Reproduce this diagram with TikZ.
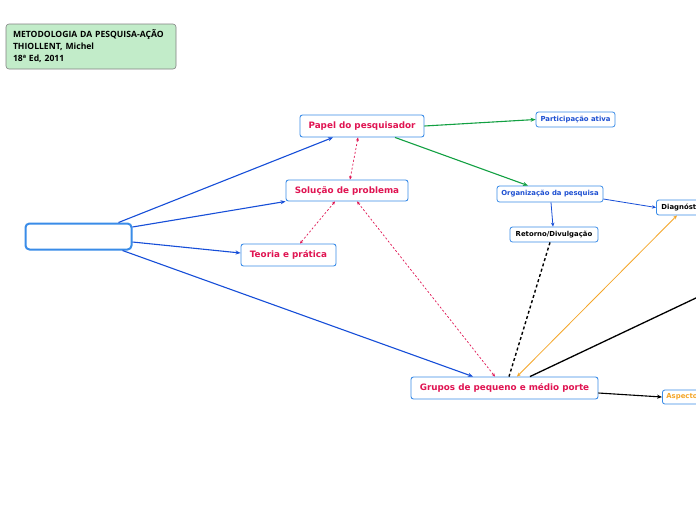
\documentclass[tikz,border=0pt]{standalone}
\usepackage{fontspec}
\setmainfont{DejaVu Sans}
\newfontfamily\hdrfont{Open Sans}
\usetikzlibrary{arrows.meta}
\definecolor{crim}{RGB}{224,20,82}
\definecolor{bbord}{RGB}{58,140,232}
\definecolor{bedge}{RGB}{22,78,216}
\definecolor{gedge}{RGB}{18,160,66}
\definecolor{oedge}{RGB}{245,166,40}
\definecolor{hdrfill}{RGB}{194,236,201}
\definecolor{hdrbord}{RGB}{130,130,130}
\definecolor{ttblue}{RGB}{30,80,210}
\begin{document}
\begin{tikzpicture}[x=1pt,y=-1pt,
  box/.style={draw=bbord,line width=0.9pt,rounded corners=2.5pt,fill=white,inner sep=0pt,font=\bfseries,align=center},
  big/.style={box,font=\fontsize{8.8}{10}\selectfont\bfseries,text=crim},
  small/.style={box,line width=0.8pt,font=\fontsize{6.9}{8}\selectfont\bfseries},
  bl/.style={draw=bedge,line width=1.1pt,-{Stealth[length=5pt,width=4pt]}},
  gl/.style={draw=gedge,line width=1.1pt,-{Stealth[length=5pt,width=4pt]}},
  cl/.style={draw=crim,line width=0.7pt,dash pattern=on 2pt off 2pt,{Stealth[length=3.5pt,width=3pt]}-{Stealth[length=3.5pt,width=3pt]}},
  kl/.style={draw=black,line width=1.1pt,-{Stealth[length=5pt,width=4pt]}}
]
\useasboundingbox (0,0) rectangle (696,520);
\fill[white] (0,0) rectangle (696,520);

\node[draw=hdrbord,fill=hdrfill,rounded corners=3pt,line width=0.6pt,minimum width=170pt,minimum height=45pt,inner sep=0pt,
  font=\hdrfont\fontsize{8.6}{12}\selectfont\bfseries,align=left,text width=156pt] (hdr) at (91,46.5)
  {METODOLOGIA DA PESQUISA-AÇÃO\\THIOLLENT, Michel\\18ª Ed, 2011};

\node[box,line width=2pt,rounded corners=4pt,minimum width=106pt,minimum height=26pt] (central) at (78.5,236.5) {};
\node[big,minimum width=124pt,minimum height=22pt] (papel) at (362,126) {Papel do pesquisador};
\node[small,text=ttblue,minimum width=79pt,minimum height=15pt] (part) at (575.5,119.5) {Participação ativa};
\node[big,minimum width=122pt,minimum height=21pt] (sol) at (347,190.5) {Solução de problema};
\node[small,text=ttblue,minimum width=106pt,minimum height=16pt] (org) at (550,194) {Organização da pesquisa};
\node[small,text=black,minimum width=60pt,minimum height=15pt,anchor=west,align=left,text width=56pt] (diag) at (656,207.5) {\hspace*{3pt}Diagnóstico};
\node[small,text=black,minimum width=88pt,minimum height=15pt] (ret) at (554,234.5) {Retorno/Divulgação};
\node[big,minimum width=95pt,minimum height=22pt] (teo) at (288.5,255) {Teoria e prática};
\node[big,minimum width=187pt,minimum height=22pt] (grp) at (504.5,388) {Grupos de pequeno e médio porte};
\node[small,text=oedge,minimum width=60pt,minimum height=14pt,anchor=west,align=left,text width=56pt] (asp) at (662,397) {\hspace*{2pt}Aspecto};
\coordinate (off) at (720,286.6);

\draw[bl] ([xshift=-14pt]central.north east) -- ([xshift=-29pt]papel.south);
\draw[bl] ([yshift=9.5pt]central.east) -- (sol.south west);
\draw[bl] ([yshift=-5.5pt]central.east) -- ([yshift=2pt]teo.west);
\draw[bl] ([xshift=-10pt]central.south east) -- ([xshift=-31.5pt]grp.north);
\draw[gl] (papel.east) -- (part.west);
\draw[gl] ([xshift=33pt]papel.south) -- ([xshift=-22pt]org.north);
\draw[cl] ([xshift=3pt]sol.north) -- ([xshift=-4pt]papel.south);
\draw[cl] ([xshift=-12pt]sol.south) -- ([xshift=11.5pt]teo.north);
\draw[cl] ([xshift=10pt]sol.south) -- ([xshift=-9.5pt]grp.north);
\draw[draw=bedge,line width=0.8pt,-{Stealth[length=4pt,width=3.5pt]}] ([xshift=1pt]org.south) -- ([xshift=-1pt]ret.north);
\draw[draw=bedge,line width=0.8pt,-{Stealth[length=4pt,width=3.5pt]}] ([yshift=-5pt]org.east) -- (diag.west);
\draw[black,line width=1.4pt,dash pattern=on 3pt off 2.5pt] ([xshift=-4pt]ret.south) -- ([xshift=4.5pt]grp.north);
\draw[draw=oedge,line width=0.8pt,{Stealth[length=4pt,width=3.5pt]}-{Stealth[length=4pt,width=3.5pt]}] ([xshift=12.5pt]grp.north) -- ([xshift=21pt]diag.south west);
\draw[black,line width=1.3pt] ([xshift=25.5pt]grp.north) -- (off);
\draw[kl] ([yshift=-5pt]grp.east) -- (asp.west);
\end{tikzpicture}
\end{document}
